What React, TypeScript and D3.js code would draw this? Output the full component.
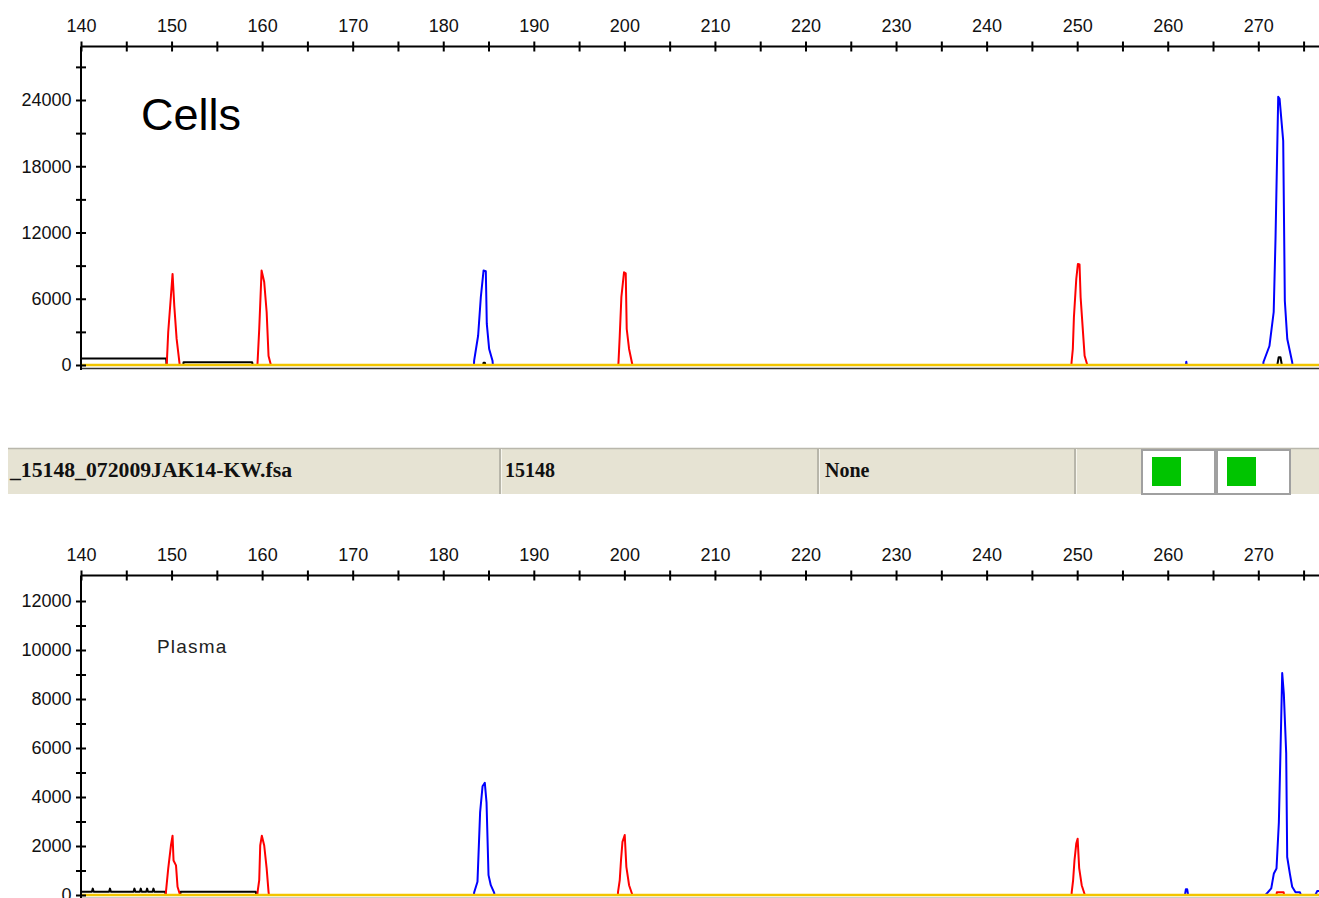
import { useEffect, useRef } from 'react';
import * as d3 from 'd3';

type Pt = [number, number];

// size (bp) axis
const xMajor = d3.range(140, 280, 10);
const xMinor = d3.range(145, 280, 10);

// Cells panel (RFU)
const cellsYMajor = [0, 6000, 12000, 18000, 24000];
const cellsYMinor = [3000, 9000, 15000, 21000, 27000];

const cellsRed: Pt[] = [
  [140, 0],
  [149.46, 0], [149.48, 270], [149.63, 2990], [149.93, 6250], [150.11, 8250], [150.3, 5350], [150.56, 2360], [150.85, 360], [150.9, 0],
  [159.48, 0], [159.5, 300], [159.68, 3260], [159.94, 8550], [160.23, 7520], [160.5, 4800], [160.71, 815], [160.97, 0],
  [199.33, 0], [199.35, 250], [199.49, 2650], [199.67, 6160], [199.96, 8400], [200.15, 8300], [200.26, 3260], [200.52, 1450], [200.89, 0],
  [249.36, 0], [249.38, 250], [249.52, 1450], [249.64, 4320], [249.9, 7790], [250.08, 9150], [250.26, 9100], [250.38, 6140], [250.63, 3110], [250.82, 840], [251.12, 0],
  [276.7, 0],
];

const cellsBlue: Pt[] = [
  [140, 0],
  [183.39, 0], [183.41, 390], [183.85, 2650], [184.15, 6160], [184.45, 8550], [184.7, 8500], [184.81, 3720], [185.07, 1450], [185.44, 390], [185.48, 0],
  [262.0, 0], [262.05, 300], [262.1, 0],
  [270.55, 0], [270.57, 270], [271.23, 1720], [271.7, 4800], [271.9, 11420], [272.2, 24290], [272.35, 24100], [272.75, 20300], [272.93, 5800], [273.2, 2360], [273.74, 270], [273.78, 0],
  [276.7, 0],
];

const cellsBlack: Pt[] = [
  [140, 590], [149.4, 590], [149.45, 0], [151.3, 0], [151.32, 250], [158.9, 250], [158.95, 0],
  [184.4, 0], [184.45, 200], [184.6, 200], [184.65, 0],
  [272.1, 0], [272.25, 700], [272.45, 700], [272.6, 0], [276.7, 0],
];

const cellsYellow: Pt[] = [[140, 0], [276.7, 0]];

// Plasma panel (RFU)
const plasmaYMajor = [0, 2000, 4000, 6000, 8000, 10000, 12000];
const plasmaYMinor = [1000, 3000, 5000, 7000, 9000, 11000];

const plasmaRed: Pt[] = [
  [140, 0],
  [149.36, 0], [149.38, 130], [149.63, 1080], [149.93, 2020], [150.11, 2420], [150.22, 1410], [150.49, 1210], [150.66, 335], [150.94, 0],
  [159.48, 0], [159.5, 130], [159.68, 605], [159.79, 2020], [159.97, 2420], [160.23, 2020], [160.5, 1090], [160.71, 130], [160.75, 0],
  [199.28, 0], [199.3, 130], [199.49, 610], [199.63, 1430], [199.79, 2170], [200.04, 2450], [200.22, 1150], [200.52, 400], [200.89, 0],
  [249.38, 0], [249.4, 130], [249.55, 600], [249.7, 1400], [249.9, 2100], [250.05, 2300], [250.22, 1100], [250.5, 400], [250.85, 0],
  [272.0, 0], [272.05, 110], [272.8, 110], [272.85, 0],
  [276.7, 0],
];

const plasmaBlue: Pt[] = [
  [140, 0],
  [183.39, 0], [183.41, 100], [183.78, 540], [184.07, 3370], [184.34, 4440], [184.59, 4580], [184.78, 3770], [185.0, 810], [185.25, 400], [185.62, 100], [185.66, 0],
  [261.9, 0], [262.0, 230], [262.15, 230], [262.25, 0],
  [270.8, 0], [271.43, 270], [271.72, 880], [272.01, 1080], [272.27, 2960], [272.45, 5860], [272.64, 9060], [272.82, 8210], [273.08, 5790], [273.19, 1550], [273.48, 880], [273.74, 335], [274.11, 110], [274.6, 110], [274.7, 0],
  [276.3, 0], [276.5, 160], [276.7, 160],
];

const plasmaBlack: Pt[] = [
  [140, 135], [141.2, 135], [141.3, 260], [141.4, 135], [143.1, 135], [143.2, 260], [143.3, 135],
  [145.8, 135], [145.9, 260], [146.0, 135], [146.5, 135], [146.6, 260], [146.7, 135],
  [147.2, 135], [147.3, 260], [147.4, 135], [147.9, 135], [148.0, 260], [148.1, 135],
  [149.3, 135], [149.35, 0], [150.95, 0], [151.0, 135], [159.3, 135], [159.35, 0], [276.7, 0],
];

const plasmaYellow: Pt[] = [[140, 0], [276.7, 0]];

// sample info strip
const stripTexts = ['_15148_072009JAK14-KW.fsa', '15148', 'None'];

const W = 1319;
const H = 898;
const FONT = '"Liberation Sans", Arial, sans-serif';

function App() {
  const svgRef = useRef<SVGSVGElement>(null);

  useEffect(() => {
    const svg = d3.select(svgRef.current);
    svg.selectAll('*').remove();

    const x = d3.scaleLinear().domain([140, 270]).range([81, 1258.3]);

    const drawPanel = (
      axisY: number,
      yScale: d3.ScaleLinear<number, number>,
      yMajor: number[],
      yMinor: number[],
      bottom: number,
      traces: { data: Pt[]; color: string }[],
    ) => {
      const g = svg.append('g');

      // traces
      const line = d3
        .line<Pt>()
        .x((d) => x(d[0]))
        .y((d) => yScale(d[1]));

      g.append('line')
        .attr('x1', x(140))
        .attr('x2', W)
        .attr('y1', yScale(0) + 3.5)
        .attr('y2', yScale(0) + 3.5)
        .attr('stroke', '#333')
        .attr('stroke-width', 1.6);

      traces.forEach((t) => {
        g.append('path')
          .attr('d', line(t.data))
          .attr('fill', 'none')
          .attr('stroke', t.color)
          .attr('stroke-width', t.color === '#F2C500' ? 2.6 : 2)
          .attr('stroke-linejoin', 'round');
      });

      // x axis (top)
      const gx = g.append('g').attr('transform', `translate(0,${axisY})`);
      gx.call(d3.axisTop(x).tickValues(xMajor).tickSize(5).tickPadding(9.5).tickFormat(d3.format('d')));
      gx.append('g').call(d3.axisTop(x).tickValues(xMinor).tickSize(5).tickFormat(() => ''));
      gx.selectAll('.domain').remove();
      gx.selectAll('.tick line').attr('y1', -5).attr('y2', 5).attr('stroke', '#000').attr('stroke-width', 2);
      gx.selectAll('.tick text').attr('font-family', FONT).attr('font-size', 18).attr('fill', '#111');
      gx.append('line').attr('x1', x(140)).attr('x2', W).attr('stroke', '#000').attr('stroke-width', 2);

      // y axis (left)
      const gy = g.append('g').attr('transform', `translate(${x(140)},0)`);
      gy.call(d3.axisLeft(yScale).tickValues(yMajor).tickSize(5).tickPadding(4.5).tickFormat(d3.format('d')));
      gy.append('g').call(d3.axisLeft(yScale).tickValues(yMinor).tickSize(5).tickFormat(() => ''));
      gy.selectAll('.domain').remove();
      gy.selectAll('.tick line').attr('x1', -5).attr('x2', 5).attr('stroke', '#000').attr('stroke-width', 2);
      gy.selectAll('.tick text').attr('font-family', FONT).attr('font-size', 18).attr('fill', '#111');
      gy.append('line').attr('y1', axisY).attr('y2', bottom).attr('stroke', '#000').attr('stroke-width', 2);

      return g;
    };

    // Cells
    const yCells = d3.scaleLinear().domain([0, 24000]).range([365, 100]);
    const top = drawPanel(46.5, yCells, cellsYMajor, cellsYMinor, 370, [
      { data: cellsBlack, color: '#000' },
      { data: cellsRed, color: '#FF0000' },
      { data: cellsBlue, color: '#0000FF' },
      { data: cellsYellow, color: '#F2C500' },
    ]);
    top.append('text')
      .attr('x', 141)
      .attr('y', 130)
      .attr('font-family', FONT)
      .attr('font-size', 45)
      .attr('fill', '#000')
      .text('Cells');

    // Plasma
    const yPlasma = d3.scaleLinear().domain([0, 12000]).range([895, 601]);
    const bot = drawPanel(575.5, yPlasma, plasmaYMajor, plasmaYMinor, H, [
      { data: plasmaBlack, color: '#000' },
      { data: plasmaRed, color: '#FF0000' },
      { data: plasmaBlue, color: '#0000FF' },
      { data: plasmaYellow, color: '#F2C500' },
    ]);
    bot.append('text')
      .attr('x', 157)
      .attr('y', 653)
      .attr('font-family', FONT)
      .attr('font-size', 19)
      .attr('letter-spacing', 1.2)
      .attr('fill', '#222')
      .text('Plasma');

    // sample strip
    const strip = svg.append('g');
    strip.append('rect').attr('x', 8).attr('y', 448).attr('width', W - 8).attr('height', 46).attr('fill', '#E6E3D3');
    strip.append('line').attr('x1', 8).attr('x2', W).attr('y1', 448.5).attr('y2', 448.5).attr('stroke', '#B9B7AC').attr('stroke-width', 1.5);
    [500, 818, 1075].forEach((sx) => {
      strip.append('line').attr('x1', sx).attr('x2', sx).attr('y1', 449).attr('y2', 494).attr('stroke', '#A9A79C').attr('stroke-width', 1.5);
      strip.append('line').attr('x1', sx + 1.5).attr('x2', sx + 1.5).attr('y1', 449).attr('y2', 494).attr('stroke', '#F7F6EE').attr('stroke-width', 1);
    });
    [1142, 1217].forEach((bx) => {
      strip.append('rect').attr('x', bx).attr('y', 450).attr('width', 73).attr('height', 44)
        .attr('fill', '#fff').attr('stroke', '#A0A0A0').attr('stroke-width', 2);
      strip.append('rect').attr('x', bx + 10).attr('y', 457).attr('width', 29).attr('height', 29).attr('fill', '#00C400');
    });
    const textX = [10, 505, 825];
    stripTexts.forEach((t, i) => {
      const el = strip.append('text')
        .attr('x', textX[i])
        .attr('y', 477)
        .attr('font-family', '"Liberation Serif", "Times New Roman", serif')
        .attr('font-weight', 'bold')
        .attr('font-size', 20)
        .attr('fill', '#111')
        .text(t);
      if (i === 0) el.attr('textLength', 282).attr('lengthAdjust', 'spacingAndGlyphs');
    });
  }, []);

  return (
    <div>
      <svg
        ref={svgRef}
        width={W}
        height={H}
        style={{ position: 'absolute', left: 0, top: 0, background: '#fff' }}
      />
    </div>
  );
}

export default App;
